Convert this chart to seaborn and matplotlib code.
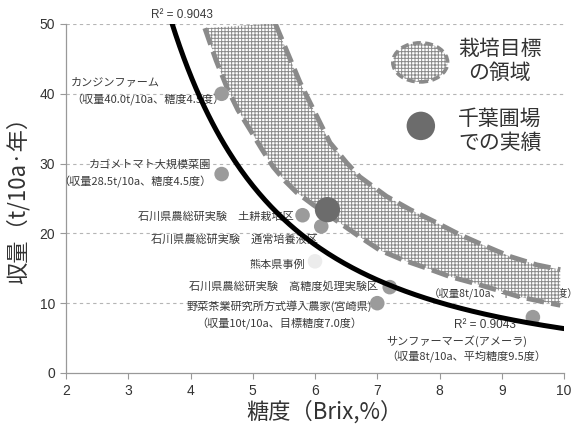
import numpy as np
import pandas as pd
import matplotlib
matplotlib.use("Agg")
import matplotlib.pyplot as plt
from matplotlib.patches import Polygon, Ellipse
import seaborn as sns

# ---- data -------------------------------------------------------------
case_names = [
    "カンジンファーム",
    "カゴメトマト大規模菜園",
    "石川県農総研実験　土耕栽培区",
    "石川県農総研実験　通常培養液区",
    "熊本県事例",
    "石川県農総研実験　高糖度処理実験区",
    "野菜茶業研究所方式導入農家(宮崎県)",
    "サンファーマーズ(アメーラ)",
]
case_brix = [4.5, 4.5, 5.8, 6.1, 6.0, 7.2, 7.0, 9.5]
case_yield = [40.0, 28.5, 22.6, 21.0, 16.0, 12.3, 10.0, 8.0]

chiba_brix = [6.2]
chiba_yield = [23.4]

r2_text = "R² = 0.9043"

# target region outline (Brix, t/10a)
target_upper_brix = [5.36, 5.76, 6.24, 6.51, 6.72, 7.15, 7.53, 7.96, 8.33, 8.76, 9.13, 9.56, 9.94]
target_upper_yield = [50.1, 41.6, 33.0, 30.1, 28.1, 25.3, 23.4, 21.5, 19.8, 18.1, 16.7, 15.5, 14.8]
target_lower_brix = [4.23, 4.41, 4.59, 4.76, 4.96, 5.15, 5.33, 5.52, 5.70, 5.97, 6.35,
                     6.72, 7.04, 7.41, 7.80, 8.17, 8.54, 8.92, 9.29, 9.66, 9.94]
target_lower_yield = [49.4, 44.8, 40.8, 37.7, 34.8, 32.0, 29.5, 27.5, 25.9, 24.1, 21.8,
                      19.5, 17.6, 16.2, 15.0, 13.8, 12.9, 11.9, 10.9, 10.2, 9.7]

x_ticks = [2, 3, 4, 5, 6, 7, 8, 9, 10]
y_ticks = [0, 10, 20, 30, 40, 50]

cases = pd.DataFrame({"name": case_names, "brix": case_brix, "yield": case_yield})

# ---- style -------------------------------------------------------------
sns.set_theme(style="white")
plt.rcParams["font.family"] = ["Noto Sans CJK JP", "DejaVu Sans"]
plt.rcParams["hatch.linewidth"] = 0.7

GRAY_PT = "#9b9b9b"
GRAY_BAND = "#8a8a8a"
TXT = "#3a3a3a"

fig = plt.figure(figsize=(5.77, 4.30), dpi=100)
ax = fig.add_axes([0.1144, 0.1326, 0.8631, 0.8116])
ax.set_xlim(2, 10)
ax.set_ylim(0, 50)

# grid
for yv in y_ticks[1:]:
    ax.axhline(yv, color="#b5b5b5", lw=0.8, ls=(0, (3, 3)), zorder=0.5)

# label partly hidden behind the target band
ax.text(7.82, 11.46, "（収量8t/10a、平均糖度9.5度）", fontsize=7.5, color=TXT,
        ha="left", va="center", zorder=1, clip_on=False)

# target band
band_xy = np.column_stack([
    np.r_[target_upper_brix, target_lower_brix[::-1]],
    np.r_[target_upper_yield, target_lower_yield[::-1]],
])
band = Polygon(band_xy, closed=True, facecolor="white", edgecolor=GRAY_BAND,
               linewidth=0, hatch="+++++", zorder=2)
ax.add_patch(band)
for bx, by in [(target_upper_brix, target_upper_yield), (target_lower_brix, target_lower_yield)]:
    ax.plot(bx, by, color=GRAY_BAND, lw=3.5, dashes=(3.6, 1.5), zorder=3,
            solid_capstyle="butt", dash_capstyle="butt")

# power trendline fitted to the cases
b, ln_a = np.polyfit(np.log(case_brix), np.log(case_yield), 1)
fit = pd.DataFrame({"brix": np.linspace(3.5, 10, 200)})
fit["yield"] = np.exp(ln_a) * fit["brix"] ** b
sns.lineplot(data=fit, x="brix", y="yield", color="black", lw=3.6, ax=ax, zorder=6)

# case points
light = cases["name"] == "熊本県事例"
sns.scatterplot(data=cases[~light], x="brix", y="yield", color=GRAY_PT, s=110,
                edgecolor="none", ax=ax, zorder=5)
sns.scatterplot(data=cases[light], x="brix", y="yield", color="#ececec", s=110,
                edgecolor="none", ax=ax, zorder=5)
sns.scatterplot(x=chiba_brix, y=chiba_yield, color="#6c6c6c", s=330,
                edgecolor="none", ax=ax, zorder=7)

# case labels
lab = dict(fontsize=8, color=TXT, va="center", zorder=4)
ax.text(2.08, 41.7, case_names[0], ha="left", **lab)
ax.text(2.08, 39.1, "（収量40.0t/10a、糖度4.5度）", ha="left", **lab)
ax.text(4.33, 29.8, case_names[1], ha="right", **lab)
ax.text(4.33, 27.4, "（収量28.5t/10a、糖度4.5度）", ha="right", **lab)
ax.text(5.66, 22.4, case_names[2], ha="right", **lab)
ax.text(6.05, 19.1, case_names[3], ha="right", **lab)
ax.text(5.84, 15.5, case_names[4], ha="right", **lab)
ax.text(7.01, 12.4, case_names[5], ha="right", **lab)
ax.text(6.92, 9.6, case_names[6], ha="right", **lab)
ax.text(6.76, 7.0, "（収量10t/10a、目標糖度7.0度）", ha="right", **lab)
ax.text(7.14, 4.63, case_names[7], ha="left", **lab)
ax.text(7.14, 2.25, "（収量8t/10a、平均糖度9.5度）", ha="left", **lab, clip_on=False)

r2 = dict(fontsize=8.5, color=TXT, ha="center", va="center",
          family=["Liberation Sans", "DejaVu Sans"])
ax.text(8.73, 6.88, r2_text, zorder=4, **r2)
ax.text(3.86, 51.3, r2_text, zorder=4, clip_on=False, **r2)

# legend drawn inside the plot
ell = Ellipse((7.69, 44.5), 0.88, 5.6, facecolor="white", edgecolor=GRAY_BAND,
              lw=2.6, ls=(0, (2.2, 1.2)), hatch="+++++", zorder=3)
ax.add_patch(ell)
ax.scatter([7.70], [35.4], s=420, color="#6c6c6c", edgecolor="none", zorder=7)
ax.text(8.97, 44.7, "栽培目標\nの領域", fontsize=15, color="#333333",
        ha="center", va="center", linespacing=1.15, zorder=4)
ax.text(8.97, 34.7, "千葉圃場\nでの実績", fontsize=15, color="#333333",
        ha="center", va="center", linespacing=1.15, zorder=4)

# axes
ax.set_xticks(x_ticks)
ax.set_yticks(y_ticks)
ax.set_xticklabels([str(v) for v in x_ticks], family=["Liberation Sans Narrow", "Liberation Sans"])
ax.set_yticklabels([str(v) for v in y_ticks], family=["Liberation Sans Narrow", "Liberation Sans"])
ax.tick_params(axis="both", labelsize=10, colors="#333333", length=4, width=0.8,
               color="#999999", direction="out", pad=4)
ax.tick_params(axis="both", which="both", bottom=True, left=True)
for side in ["top", "right"]:
    ax.spines[side].set_visible(False)
for side in ["left", "bottom"]:
    ax.spines[side].set_color("#999999")
    ax.spines[side].set_linewidth(0.9)
ax.set_xlabel("")
ax.set_ylabel("")
fig.text(324 / 577, 1 - 412 / 430, "糖度（Brix,%）", fontsize=16, color="#333333",
         ha="center", va="center")
fig.text(18 / 577, 1 - 195 / 430, "収量（t/10a·年）", fontsize=16, color="#333333",
         ha="center", va="center", rotation=90)

fig.savefig("out.png", dpi=100)
